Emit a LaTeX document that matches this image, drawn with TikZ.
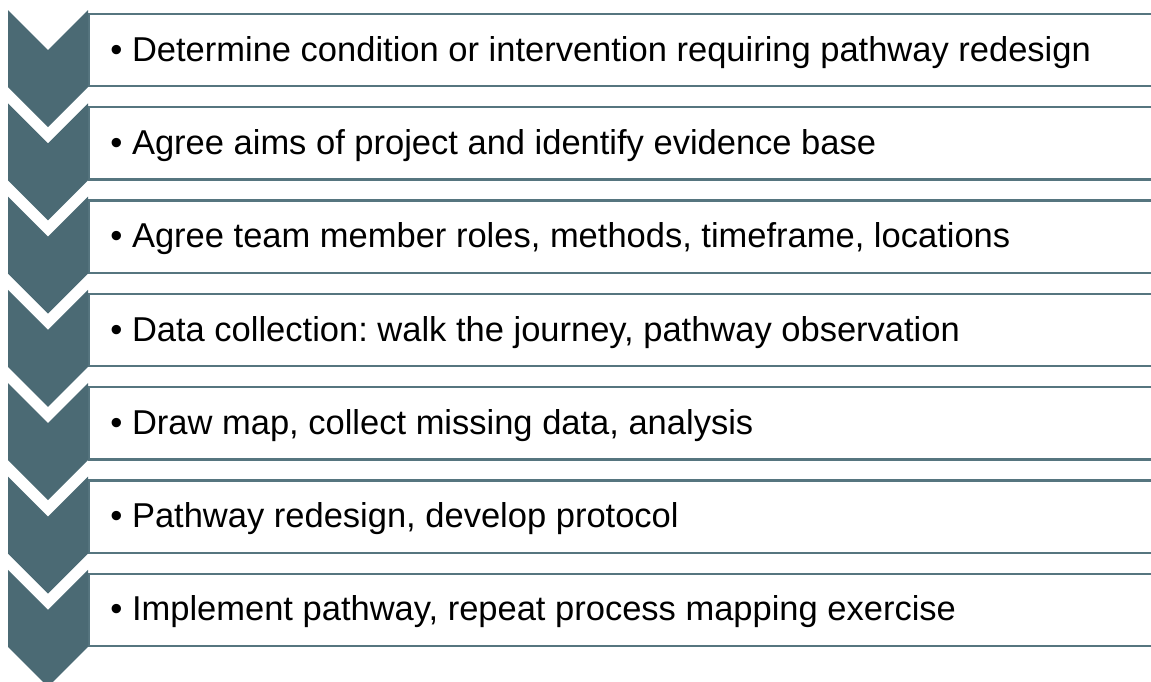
\documentclass[tikz,border=0pt]{standalone}
\usepackage{fontspec}
\setmainfont{Liberation Sans}
\frenchspacing
\definecolor{slate}{RGB}{75,106,116}
\definecolor{steprule}{RGB}{86,117,127}
\tikzset{
  stepbox/.style={rectangle, draw=steprule, line width=1.15pt, fill=white,
    anchor=north west, minimum width=536pt, minimum height=36.1pt, inner sep=0pt},
  steptext/.style={anchor=base west, inner sep=0pt,
    font=\fontsize{17.25pt}{20pt}\selectfont},
  chevron/.style={fill=slate}
}
\begin{document}
\begin{tikzpicture}[x=0.5pt,y=-0.5pt]
	\clip (0,0) rectangle (1151,681);
	% one row per step: box with text, chevron on the left
	\foreach \t [count=\i from 0] in {%
		{Determine condition or intervention requiring pathway redesign},
		{Agree aims of project and identify evidence base},
		{Agree team member roles, methods, timeframe, locations},
		{Data collection: walk the journey, pathway observation},
		{Draw map, collect missing data, analysis},
		{Pathway redesign, develop protocol},
		{Implement pathway, repeat process mapping exercise}} {
		\pgfmathsetmacro\ytop{10+93.3*\i}
		\node[stepbox] (box\i) at (88,\ytop+2.8) {};
		\node[steptext] (txt\i) at ([xshift=11pt,yshift=-5.55pt]box\i.west) {\textbullet\ \t};
		\fill[chevron] (8,\ytop) -- (48,\ytop+40) -- (88,\ytop) -- (88,\ytop+77)
			-- (48,\ytop+117) -- (8,\ytop+77) -- cycle;
	}
\end{tikzpicture}
\end{document}
